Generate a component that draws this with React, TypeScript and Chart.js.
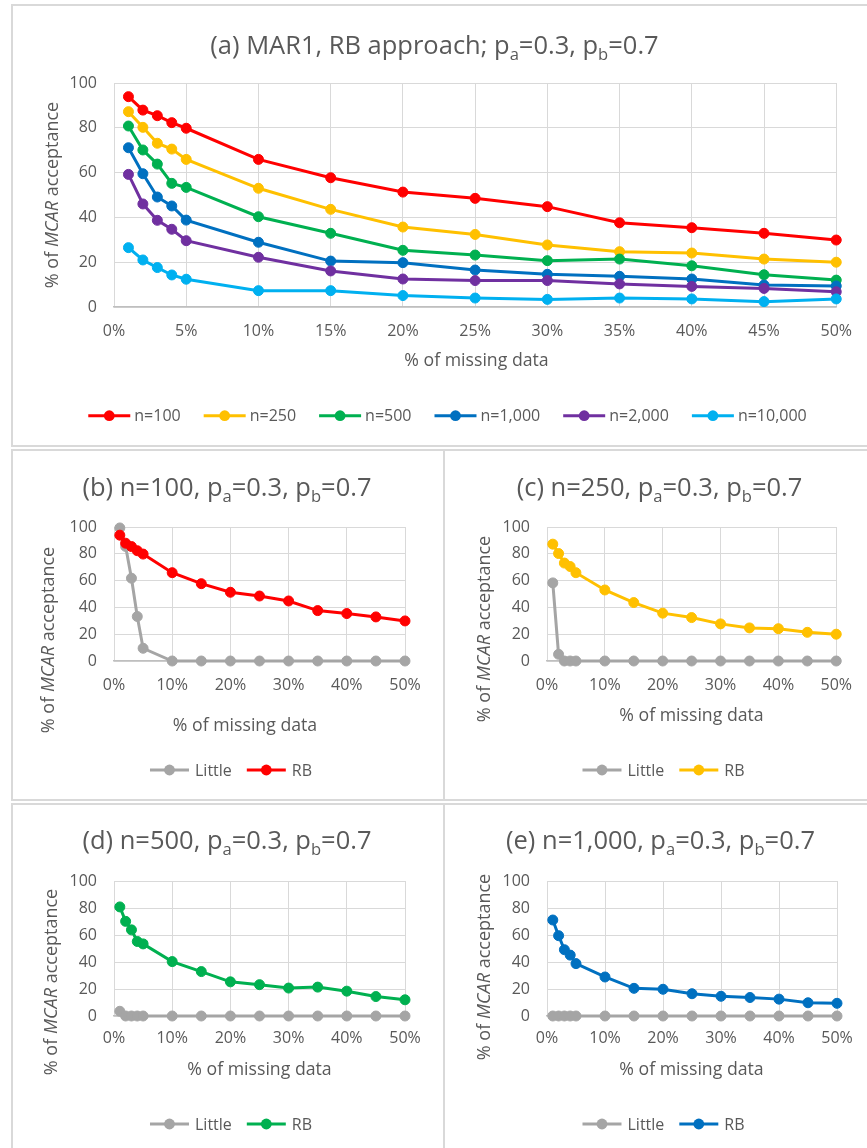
import React, { useEffect, useRef } from 'react';
import { Chart, registerables } from 'chart.js';

Chart.register(...registerables);

// ---------------- data ----------------
const missingPct = [1, 2, 3, 4, 5, 10, 15, 20, 25, 30, 35, 40, 45, 50];

const rbN100 = [93.9, 87.9, 85.4, 82.3, 79.8, 65.9, 57.7, 51.3, 48.5, 44.8, 37.6, 35.4, 32.9, 29.9];
const rbN250 = [87.2, 80.2, 73.1, 70.5, 65.9, 53.0, 43.6, 35.7, 32.4, 27.7, 24.7, 24.1, 21.4, 20.0];
const rbN500 = [80.8, 70.1, 63.8, 55.2, 53.4, 40.3, 32.9, 25.3, 23.2, 20.7, 21.4, 18.4, 14.4, 12.0];
const rbN1000 = [71.1, 59.5, 49.1, 45.1, 38.8, 28.9, 20.5, 19.8, 16.5, 14.6, 13.7, 12.5, 9.8, 9.4];
const rbN2000 = [59.2, 46.0, 38.7, 34.7, 29.6, 22.2, 16.1, 12.5, 11.8, 11.8, 10.3, 9.2, 8.3, 6.8];
const rbN10000 = [26.5, 21.0, 17.6, 14.3, 12.4, 7.3, 7.3, 5.1, 4.0, 3.4, 4.0, 3.6, 2.4, 3.6];

const littleN100 = [99.3, 85.5, 61.8, 33.2, 9.5, 0, 0, 0, 0, 0, 0, 0, 0, 0];
const littleN250 = [58.3, 5.0, 0, 0, 0, 0, 0, 0, 0, 0, 0, 0, 0, 0];
const littleN500 = [3.5, 0, 0, 0, 0, 0, 0, 0, 0, 0, 0, 0, 0, 0];
const littleN1000 = [0, 0, 0, 0, 0, 0, 0, 0, 0, 0, 0, 0, 0, 0];

const sizeLabels = ['n=100', 'n=250', 'n=500', 'n=1,000', 'n=2,000', 'n=10,000'];
const sizeColors = ['#FF0000', '#FFC000', '#00B050', '#0070C0', '#7030A0', '#00B0F0'];
const methodLabels = ['Little', 'RB'];
const littleColor = '#A5A5A5';

const yMin = 0;
const yMax = 100;
const yStep = 20;
const xMin = 0;
const xMax = 50;

const xTitleText = '% of missing data';

// ---------------- styling ----------------
const FONT = "'Open Sans', sans-serif";
const TEXT = '#595959';
const GRID = '#D9D9D9';

type Seg = { t: string; sub?: boolean; it?: boolean };
type Rect = { x: number; y: number; w: number; h: number };
type Series = { label: string; color: string; values: number[]; order: number };

interface PanelCfg {
  key: string;
  box: Rect; // border box (page coords)
  canvas: Rect; // page coords
  plot: { l: number; t: number; r: number; b: number };
  title: Seg[];
  titleCx: number;
  titleCy: number;
  yTitleCx: number;
  yTitleCy: number;
  xTitleCx: number;
  xTitleCy: number;
  legendCx: number;
  legendCy: number;
  legend: { symW: number; gap: number; itemGap: number };
  xStep: number;
  xTickPad: number;
  series: Series[];
}

const yTitleSegs: Seg[] = [{ t: '% of ' }, { t: 'MCAR', it: true }, { t: ' acceptance' }];

function subTitle(prefix: string): Seg[] {
  return [
    { t: prefix + ', p' },
    { t: 'a', sub: true },
    { t: '=0.3, p' },
    { t: 'b', sub: true },
    { t: '=0.7' },
  ];
}

const pairSeries = (little: number[], rb: number[], color: string): Series[] => [
  { label: methodLabels[0], color: littleColor, values: little, order: 1 },
  { label: methodLabels[1], color, values: rb, order: 0 },
];

const rbAll = [rbN100, rbN250, rbN500, rbN1000, rbN2000, rbN10000];

const panels: PanelCfg[] = [
  {
    key: 'a',
    box: { x: 11, y: 4, w: 900, h: 443 },
    canvas: { x: 13, y: 6, w: 854, h: 439 },
    plot: { l: 114, t: 83, r: 839, b: 307 },
    title: [
      { t: '(a) MAR1, RB approach; p' },
      { t: 'a', sub: true },
      { t: '=0.3, p' },
      { t: 'b', sub: true },
      { t: '=0.7' },
    ],
    titleCx: 434.5,
    titleCy: 45,
    yTitleCx: 52,
    yTitleCy: 195,
    xTitleCx: 476.5,
    xTitleCy: 361,
    legendCx: 447.5,
    legendCy: 415.7,
    legend: { symW: 42, gap: 4, itemGap: 23 },
    xStep: 5,
    xTickPad: 15,
    series: rbAll.map((v, i) => ({ label: sizeLabels[i], color: sizeColors[i], values: v, order: 5 - i })),
  },
  {
    key: 'b',
    box: { x: 11, y: 449, w: 434, h: 352 },
    canvas: { x: 13, y: 451, w: 430, h: 348 },
    plot: { l: 114, t: 527, r: 405, b: 661 },
    title: subTitle('(b) n=100'),
    titleCx: 227,
    titleCy: 487,
    yTitleCx: 48,
    yTitleCy: 640,
    xTitleCx: 245,
    xTitleCy: 726,
    legendCx: 231,
    legendCy: 770,
    legend: { symW: 39, gap: 6, itemGap: 15 },
    xStep: 10,
    xTickPad: 15,
    series: pairSeries(littleN100, rbN100, sizeColors[0]),
  },
  {
    key: 'c',
    box: { x: 443, y: 449, w: 500, h: 352 },
    canvas: { x: 445, y: 451, w: 422, h: 348 },
    plot: { l: 547, t: 527, r: 837, b: 661 },
    title: subTitle('(c) n=250'),
    titleCx: 659.5,
    titleCy: 487,
    yTitleCx: 484,
    yTitleCy: 629,
    xTitleCx: 691.5,
    xTitleCy: 716,
    legendCx: 663.5,
    legendCy: 770,
    legend: { symW: 39, gap: 6, itemGap: 15 },
    xStep: 10,
    xTickPad: 15,
    series: pairSeries(littleN250, rbN250, sizeColors[1]),
  },
  {
    key: 'd',
    box: { x: 11, y: 803, w: 434, h: 420 },
    canvas: { x: 13, y: 805, w: 430, h: 343 },
    plot: { l: 114, t: 881, r: 405, b: 1016 },
    title: subTitle('(d) n=500'),
    titleCx: 227,
    titleCy: 840,
    yTitleCx: 51,
    yTitleCy: 982,
    xTitleCx: 259.5,
    xTitleCy: 1070,
    legendCx: 231,
    legendCy: 1124,
    legend: { symW: 39, gap: 6, itemGap: 15 },
    xStep: 10,
    xTickPad: 13,
    series: pairSeries(littleN500, rbN500, sizeColors[2]),
  },
  {
    key: 'e',
    box: { x: 443, y: 803, w: 500, h: 420 },
    canvas: { x: 445, y: 805, w: 422, h: 343 },
    plot: { l: 547, t: 881, r: 837, b: 1016 },
    title: subTitle('(e) n=1,000'),
    titleCx: 660.5,
    titleCy: 840,
    yTitleCx: 484,
    yTitleCy: 967,
    xTitleCx: 691.5,
    xTitleCy: 1070,
    legendCx: 663.5,
    legendCy: 1124,
    legend: { symW: 39, gap: 6, itemGap: 15 },
    xStep: 10,
    xTickPad: 13,
    series: pairSeries(littleN1000, rbN1000, sizeColors[3]),
  },
];

// ---------------- drawing helpers ----------------
const TITLE_SIZE = 25.5;
const AXIS_TITLE_SIZE = 18;
const X_TITLE_SIZE = 17.7;
const TICK_SIZE = 16;
const LEGEND_SIZE = 16;

function segFont(size: number, s: Seg) {
  const sz = s.sub ? size * 0.65 : size;
  return `${s.it ? 'italic ' : ''}${sz}px ${FONT}`;
}

function drawRich(ctx: CanvasRenderingContext2D, segs: Seg[], cx: number, cy: number, size: number) {
  let total = 0;
  const widths = segs.map((s) => {
    ctx.font = segFont(size, s);
    const w = ctx.measureText(s.t).width;
    total += w;
    return w;
  });
  let x = cx - total / 2;
  const base = cy + size * 0.36;
  ctx.textAlign = 'left';
  ctx.textBaseline = 'alphabetic';
  ctx.fillStyle = TEXT;
  segs.forEach((s, i) => {
    ctx.font = segFont(size, s);
    ctx.fillText(s.t, x, s.sub ? base + size * 0.22 : base);
    x += widths[i];
  });
}

function drawLegend(
  ctx: CanvasRenderingContext2D,
  items: Series[],
  cx: number,
  cy: number,
  opt: { symW: number; gap: number; itemGap: number }
) {
  ctx.font = `${LEGEND_SIZE}px ${FONT}`;
  const tw = items.map((it) => ctx.measureText(it.label).width);
  const total =
    items.reduce((a, _it, i) => a + opt.symW + opt.gap + tw[i], 0) + opt.itemGap * (items.length - 1);
  let x = cx - total / 2;
  items.forEach((it, i) => {
    ctx.strokeStyle = it.color;
    ctx.lineWidth = 3;
    ctx.beginPath();
    ctx.moveTo(x, cy);
    ctx.lineTo(x + opt.symW, cy);
    ctx.stroke();
    ctx.fillStyle = it.color;
    ctx.beginPath();
    ctx.arc(x + opt.symW / 2, cy, 5.4, 0, Math.PI * 2);
    ctx.fill();
    ctx.fillStyle = TEXT;
    ctx.textBaseline = 'middle';
    ctx.textAlign = 'left';
    ctx.font = `${LEGEND_SIZE}px ${FONT}`;
    ctx.fillText(it.label, x + opt.symW + opt.gap, cy + 1);
    x += opt.symW + opt.gap + tw[i] + opt.itemGap;
  });
}

function Panel({ cfg }: { cfg: PanelCfg }) {
  const ref = useRef<HTMLCanvasElement | null>(null);

  useEffect(() => {
    const canvas = ref.current;
    if (!canvas) return;
    const c = cfg.canvas;
    const ox = c.x;
    const oy = c.y;

    const decor = {
      id: 'decor_' + cfg.key,
      afterDraw(chart: any) {
        const ctx: CanvasRenderingContext2D = chart.ctx;
        ctx.save();
        drawRich(ctx, cfg.title, cfg.titleCx - ox, cfg.titleCy - oy, TITLE_SIZE);
        // y axis title (rotated)
        ctx.save();
        ctx.translate(cfg.yTitleCx - ox, cfg.yTitleCy - oy);
        ctx.rotate(-Math.PI / 2);
        drawRich(ctx, yTitleSegs, 0, 0, AXIS_TITLE_SIZE);
        ctx.restore();
        // x axis title
        ctx.font = `${X_TITLE_SIZE}px ${FONT}`;
        ctx.fillStyle = TEXT;
        ctx.textAlign = 'center';
        ctx.textBaseline = 'middle';
        ctx.fillText(xTitleText, cfg.xTitleCx - ox, cfg.xTitleCy - oy);
        // legend
        drawLegend(ctx, cfg.series, cfg.legendCx - ox, cfg.legendCy - oy, cfg.legend);
        ctx.restore();
      },
    };

    const chart = new Chart(canvas, {
      type: 'line',
      data: {
        datasets: cfg.series.map((s) => ({
          label: s.label,
          data: missingPct.map((x, i) => ({ x, y: s.values[i] })),
          borderColor: s.color,
          backgroundColor: s.color,
          pointBackgroundColor: s.color,
          pointBorderColor: s.color,
          borderWidth: 3,
          pointRadius: 5,
          pointBorderWidth: 1,
          tension: 0,
          fill: false,
          clip: false,
          order: s.order,
        })),
      },
      options: {
        animation: false,
        responsive: false,
        devicePixelRatio: 1,
        layout: {
          padding: {
            left: 0,
            top: cfg.plot.t - c.y,
            right: c.x + c.w - cfg.plot.r,
            bottom: 0,
          },
        },
        plugins: {
          legend: { display: false },
          title: { display: false },
          tooltip: { enabled: false },
        },
        scales: {
          x: {
            type: 'linear',
            min: xMin,
            max: xMax,
            ticks: {
              stepSize: cfg.xStep,
              callback: (v: any) => `${v}%`,
              font: { family: FONT, size: TICK_SIZE },
              color: TEXT,
              padding: cfg.xTickPad,
              maxRotation: 0,
              autoSkip: false,
            },
            grid: { color: GRID, drawTicks: false, lineWidth: 1 },
            border: { color: '#BFBFBF', width: 1.5 },
            afterFit: (scale: any) => {
              scale.height = c.y + c.h - cfg.plot.b;
            },
          },
          y: {
            min: yMin,
            max: yMax,
            ticks: {
              stepSize: yStep,
              font: { family: FONT, size: TICK_SIZE },
              color: TEXT,
              padding: 17,
            },
            grid: { color: GRID, drawTicks: false, lineWidth: 1 },
            border: { display: false },
            afterFit: (scale: any) => {
              scale.width = cfg.plot.l - c.x;
            },
          },
        },
      },
      plugins: [decor],
    } as any);

    return () => chart.destroy();
  }, [cfg]);

  const c = cfg.canvas;
  return (
    <>
      <div
        style={{
          position: 'absolute',
          left: cfg.box.x,
          top: cfg.box.y,
          width: cfg.box.w,
          height: cfg.box.h,
          border: `2px solid ${GRID}`,
          boxSizing: 'border-box',
          background: '#fff',
        }}
      />
      <canvas
        ref={ref}
        width={c.w}
        height={c.h}
        style={{ position: 'absolute', left: c.x, top: c.y, width: c.w, height: c.h }}
      />
    </>
  );
}

export default function App() {
  return (
    <div
      style={{
        position: 'absolute',
        left: 0,
        top: 0,
        width: 867,
        height: 1148,
        overflow: 'hidden',
        background: '#fff',
      }}
    >
      {panels.map((p) => (
        <Panel key={p.key} cfg={p} />
      ))}
    </div>
  );
}
